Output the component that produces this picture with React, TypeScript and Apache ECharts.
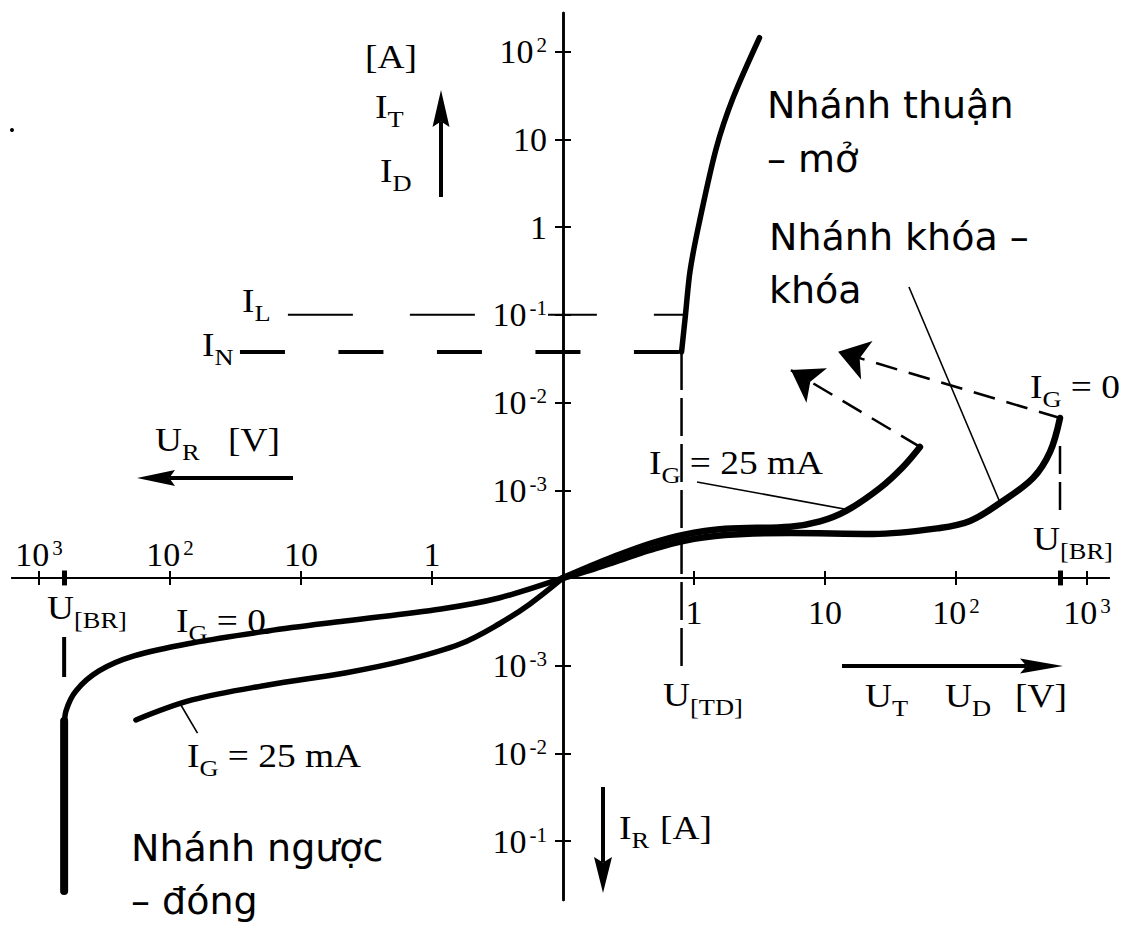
import React, { useEffect, useRef } from 'react';
import * as echarts from 'echarts';

// Both axes are drawn in "decade positions": 0 is the origin and every unit
// away from it is one decade of |U| (volts) or |I| (amperes).
const voltTickPos = [1, 2, 3, 4];
const voltTickBase = ['1', '10', '10', '10'];
const voltTickExp = ['', '', '2', '3'];

const currTickPos = [-3, -2, -1, 1, 2, 3, 4, 5, 6];
const currTickBase = ['10', '10', '10', '10', '10', '10', '1', '10', '10'];
const currTickExp = ['-1', '-2', '-3', '-3', '-2', '-1', '', '', '2'];

// Forward conducting branch (on state), starting at U[TD]
const onState = [
  [0.905, 2.577], [0.935, 3.0], [0.97, 3.5], [1.04, 4.05], [1.17, 4.9], [1.3, 5.48], [1.5, 6.16],
];

// Forward blocking branch, I_G = 0, up to the breakover voltage U[BR]
const blockingIG0 = [
  [0, 0], [0.206, 0.091], [0.412, 0.194], [0.664, 0.319], [0.916, 0.422], [1.237, 0.49],
  [1.733, 0.513], [2.366, 0.502], [2.878, 0.57], [3.107, 0.65], [3.336, 0.855],
  [3.588, 1.14], [3.718, 1.437], [3.794, 1.824],
];

// Forward blocking branch, I_G = 25 mA
const blockingIG25 = [
  [0, 0], [0.206, 0.13], [0.412, 0.255], [0.664, 0.39], [0.916, 0.492], [1.237, 0.56],
  [1.733, 0.585], [1.962, 0.645], [2.168, 0.77], [2.42, 1.026], [2.595, 1.266], [2.725, 1.494],
];

// Reverse blocking branch, I_G = 0
const reverseIG0 = [
  [0, 0], [-0.489, -0.228], [-0.931, -0.353], [-1.664, -0.49], [-2.252, -0.604],
  [-2.832, -0.741], [-3.275, -0.889], [-3.542, -1.06], [-3.718, -1.288], [-3.794, -1.517],
  [-3.805, -1.68],
];

// Reverse blocking branch, I_G = 25 mA
const reverseIG25 = [
  [0, 0], [-0.252, -0.296], [-0.489, -0.525], [-0.786, -0.753], [-1.221, -0.946],
  [-1.664, -1.083], [-2.252, -1.22], [-2.832, -1.391], [-3.26, -1.619],
];

// Reverse avalanche at U[BR]
const reverseBreakdown = [[-3.808, -1.63], [-3.808, -3.57]];

// Latching current I_L (10^-1 A) and holding current I_N
const latchingLevel = [[-2.1, 3], [0.935, 3]];
const holdingLevel = [[-2.466, 2.577], [0.905, 2.577]];
// Threshold voltage U[TD]
const thresholdLine = [[0.905, 2.577], [0.905, -1.026]];
// Breakover voltage markers
const breakoverFwdLine = [[3.794, 1.505], [3.794, 0.775]];
const breakoverRevLine = [[-3.808, -0.673], [-3.808, -1.163]];
const breakoverTicks = [
  [[3.794, 0.085], [3.794, -0.085]],
  [[-3.808, 0.085], [-3.808, -0.085]],
];

// Switching jumps from the blocking branches towards the on state
const switchIG25 = [[2.725, 1.494], [1.74, 2.37]];
const switchIG0 = [[3.794, 1.824], [2.1, 2.58]];

// Leader lines from the labels to the curves
const leaderBlocking = [[2.641, 3.318], [3.336, 0.86]];
const leaderIG25Fwd = [[1.023, 1.095], [2.17, 0.78]];
const leaderIG25Rev = [[-2.92, -1.44], [-2.79, -1.77]];

const SERIF = '"Liberation Serif", "Times New Roman", serif';
const SANS = '"DejaVu Sans", Verdana, sans-serif';

const X_MIN = -4.206;
const X_MAX = 4.168;
const Y_MIN = -3.672;
const Y_MAX = 6.442;

const CHART_W = 1123;
const CHART_H = 950;
const GRID = { left: 12, right: 14, top: 13, bottom: 50 };
const GRID_W = CHART_W - GRID.left - GRID.right;
const GRID_H = CHART_H - GRID.top - GRID.bottom;

// Offsets that move each axis from its grid edge onto the other axis' zero.
const bottomOffset = -((0 - Y_MIN) / (Y_MAX - Y_MIN)) * GRID_H;
const topOffset = -((Y_MAX - 0) / (Y_MAX - Y_MIN)) * GRID_H;
const leftOffset = -((0 - X_MIN) / (X_MAX - X_MIN)) * GRID_W;
const rightOffset = -((X_MAX - 0) / (X_MAX - X_MIN)) * GRID_W;

const tickText = (base: string, exp: string) => (exp ? `{n|${base}}{s|${exp}}` : `{n|${base}}`);

const voltLabel = (v: number) => {
  const i = voltTickPos.indexOf(Math.round(Math.abs(v)));
  return i < 0 ? '' : tickText(voltTickBase[i], voltTickExp[i]);
};

const currLabel = (v: number) => {
  const i = currTickPos.indexOf(Math.round(v));
  return i < 0 ? '' : tickText(currTickBase[i], currTickExp[i]);
};

const axisRich = {
  n: { fontFamily: SERIF, fontSize: 34, lineHeight: 34, color: '#000' },
  s: { fontFamily: SERIF, fontSize: 21, lineHeight: 21, color: '#000', verticalAlign: 'top', padding: [0, 0, 0, 3] },
};

const annoRich = {
  m: { fontFamily: SERIF, fontSize: 34, lineHeight: 48, fill: '#000' },
  b: { fontFamily: SERIF, fontSize: 24, lineHeight: 24, fill: '#000', verticalAlign: 'bottom' },
};

const voltTicksAll = [...voltTickPos.map((v) => -v).reverse(), ...voltTickPos];

function serifText(x: number, y: number, text: string) {
  return {
    type: 'text',
    x,
    y,
    scaleX: 1.1,
    silent: true,
    style: {
      text,
      rich: annoRich,
      fill: '#000',
      fontFamily: SERIF,
      fontSize: 34,
      align: 'left',
      verticalAlign: 'middle',
    },
  };
}

function sansText(x: number, y: number, text: string, lineHeight: number) {
  return {
    type: 'text',
    x,
    y,
    silent: true,
    style: {
      text,
      fill: '#000',
      fontFamily: SANS,
      fontSize: 38,
      lineHeight,
      align: 'left',
      verticalAlign: 'middle',
    },
  };
}

function arrow(x1: number, y1: number, x2: number, y2: number, len: number, w: number, lw: number) {
  const dx = x2 - x1;
  const dy = y2 - y1;
  const d = Math.hypot(dx, dy);
  const ux = dx / d;
  const uy = dy / d;
  const px = -uy;
  const py = ux;
  const bx = x2 - ux * len;
  const by = y2 - uy * len;
  const nx = x2 - ux * len * 0.85;
  const ny = y2 - uy * len * 0.85;
  return [
    { type: 'line', silent: true, shape: { x1, y1, x2: nx, y2: ny }, style: { stroke: '#000', lineWidth: lw } },
    {
      type: 'polygon',
      silent: true,
      shape: {
        points: [
          [x2, y2],
          [bx + (px * w) / 2, by + (py * w) / 2],
          [nx, ny],
          [bx - (px * w) / 2, by - (py * w) / 2],
        ],
      },
      style: { fill: '#000' },
    },
  ];
}

function curve(name: string, data: number[][], width = 5.5, smooth: number | boolean = 0.35) {
  return {
    type: 'line',
    name,
    data,
    showSymbol: false,
    symbol: 'none',
    smooth,
    silent: true,
    z: 5,
    lineStyle: { color: '#000', width, cap: 'round', join: 'round' },
  };
}

function dashed(name: string, data: number[][], width: number, dash: number[]) {
  return {
    type: 'line',
    name,
    data,
    showSymbol: false,
    symbol: 'none',
    silent: true,
    z: 4,
    lineStyle: { color: '#000', width, type: dash, cap: 'butt' },
  };
}

function segments(name: string, coords: number[][][], width: number, dash: number[] | 'solid', symbol: string[]) {
  return {
    type: 'lines',
    name,
    coordinateSystem: 'cartesian2d',
    silent: true,
    z: 4,
    symbol,
    symbolSize: [14, 30],
    lineStyle: { color: '#000', width, type: dash, curveness: 0, opacity: 1, cap: 'butt' },
    data: coords.map((c) => ({ coords: c })),
  };
}

function buildOption() {
  const xCommon = {
    type: 'value',
    min: X_MIN,
    max: X_MAX,
    splitLine: { show: false },
    axisLine: { show: true, onZero: false, lineStyle: { color: '#000', width: 2 } },
    axisTick: { show: true, customValues: voltTicksAll, length: 7, lineStyle: { color: '#000', width: 2 } },
  };
  const yCommon = {
    type: 'value',
    min: Y_MIN,
    max: Y_MAX,
    splitLine: { show: false },
    axisLine: { show: true, onZero: false, lineStyle: { color: '#000', width: 2.5 } },
    axisTick: { show: true, customValues: currTickPos, length: 8, lineStyle: { color: '#000', width: 2 } },
  };

  return {
    animation: false,
    backgroundColor: '#fff',
    grid: { ...GRID, containLabel: false, outerBoundsMode: 'none' },
    xAxis: [
      {
        ...xCommon,
        position: 'bottom',
        offset: bottomOffset,
        axisLabel: { show: true, customValues: voltTickPos, margin: 18, formatter: voltLabel, rich: axisRich },
      },
      {
        ...xCommon,
        position: 'top',
        offset: topOffset,
        axisLabel: {
          show: true,
          customValues: voltTickPos.map((v) => -v),
          margin: 6,
          formatter: voltLabel,
          rich: axisRich,
        },
      },
    ],
    yAxis: [
      {
        ...yCommon,
        position: 'left',
        offset: leftOffset,
        z: 6,
        axisLabel: {
          show: true,
          customValues: currTickPos,
          margin: 15,
          formatter: currLabel,
          rich: axisRich,
          backgroundColor: '#fff',
          padding: [0, 1, 0, 2],
        },
      },
      { ...yCommon, position: 'right', offset: rightOffset, axisLabel: { show: false } },
    ],
    series: [
      curve('on state', onState, 5.5, 0.3),
      curve('blocking I_G = 0', blockingIG0, 6.5),
      curve('blocking I_G = 25 mA', blockingIG25, 6.5),
      curve('reverse I_G = 0', reverseIG0),
      curve('reverse I_G = 25 mA', reverseIG25),
      curve('reverse breakdown', reverseBreakdown, 8, false),
      dashed('I_L', latchingLevel, 2, [65, 57]),
      dashed('I_N', holdingLevel, 4, [45, 53.5]),
      dashed('U_TD', thresholdLine, 2.5, [38, 8]),
      dashed('U_BR forward', breakoverFwdLine, 2.5, [28, 8]),
      dashed('U_BR reverse', breakoverRevLine, 4, [40, 8]),
      segments('breakover ticks', breakoverTicks, 5, 'solid', ['none', 'none']),
      segments('switching', [switchIG25, switchIG0], 2.5, [22, 12], ['none', 'arrow']),
      segments('leaders', [leaderBlocking, leaderIG25Fwd, leaderIG25Rev], 1.6, 'solid', ['none', 'none']),
    ],
    graphic: [
      { type: 'circle', silent: true, shape: { cx: 12, cy: 130, r: 2 }, style: { fill: '#000' } },
      serifText(365, 57, '{m|[A]}'),
      serifText(375, 107, '{m|I}{b|T}'),
      serifText(380, 171, '{m|I}{b|D}'),
      serifText(242, 301, '{m|I}{b|L}'),
      serifText(202, 345, '{m|I}{b|N}'),
      serifText(155, 440, '{m|U}{b|R}'),
      serifText(228, 440, '{m|[V]}'),
      serifText(649, 463, '{m|I}{b|G}{m| = 25 mA}'),
      serifText(1030, 387, '{m|I}{b|G}{m| = 0}'),
      serifText(1033, 539, '{m|U}{b|[BR]}'),
      serifText(47, 608, '{m|U}{b|[BR]}'),
      serifText(176, 621, '{m|I}{b|G}{m| = 0}'),
      serifText(663, 695, '{m|U}{b|[TD]}'),
      serifText(865, 696, '{m|U}{b|T}'),
      serifText(945, 696, '{m|U}{b|D}'),
      serifText(1015, 696, '{m|[V]}'),
      serifText(187, 756, '{m|I}{b|G}{m| = 25 mA}'),
      serifText(619, 828, '{m|I}{b|R}'),
      serifText(660, 828, '{m|[A]}'),
      sansText(767, 132, 'Nhánh thuận\n– mở', 54),
      sansText(769, 263, 'Nhánh khóa –\nkhóa', 53),
      sansText(131, 874, 'Nhánh ngược\n– đóng', 53),
      ...arrow(441, 197, 441, 90, 37, 17, 4),
      ...arrow(293, 478, 137, 478, 38, 16, 4),
      ...arrow(842, 666, 1063, 666, 43, 15, 4),
      ...arrow(603, 787, 603, 893, 36, 18, 4),
    ],
  };
}

export default function App() {
  const ref = useRef<HTMLDivElement>(null);
  useEffect(() => {
    if (!ref.current) return;
    const chart = echarts.init(ref.current, undefined, { renderer: 'svg' });
    chart.setOption(buildOption() as any);
    return () => chart.dispose();
  }, []);
  return (
    <div
      ref={ref}
      style={{ position: 'fixed', left: 0, top: 0, width: CHART_W, height: CHART_H, background: '#fff' }}
    />
  );
}
